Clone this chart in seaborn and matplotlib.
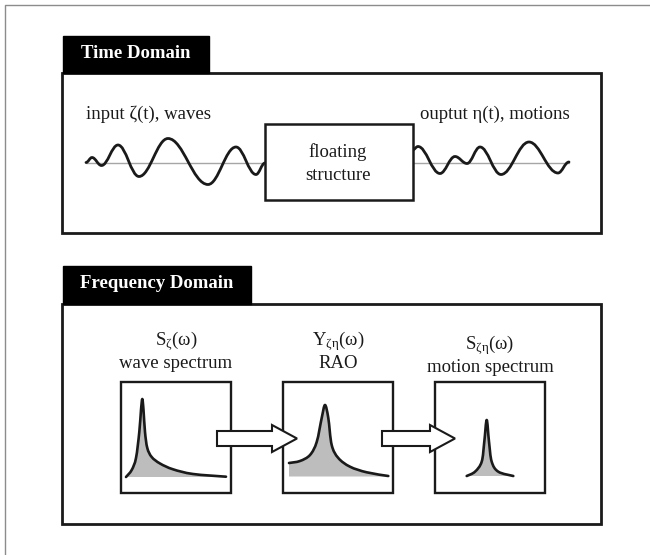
import numpy as np
import seaborn as sns
import matplotlib.pyplot as plt
from matplotlib.path import Path
from matplotlib.patches import PathPatch, Rectangle, Polygon

# the diagram is laid out in picture units (x right, y down)
wave_in_x = [86, 92, 101.5, 118, 139, 168, 208, 236, 256, 265]
wave_in_y = [162.5, 157.5, 165.5, 145, 176.5, 138.5, 184.5, 147, 174.5, 163]
wave_out_x = [412.5, 418, 440, 455, 467, 480, 501, 529, 558, 569]
wave_out_y = [150, 146.5, 173.5, 156.5, 163.5, 147, 174.5, 142, 173, 162]

spec_wave_x = [126, 131.7, 136, 139.3, 141, 142.3, 143.5, 145, 147.3, 151.7, 160, 173, 193, 226]
spec_wave_y = [477, 470, 458, 432, 410, 399, 410, 432, 448, 457, 463.5, 469.3, 474, 476.7]
rao_x = [289, 300, 310, 316.7, 321.7, 325, 328.3, 331.7, 338.3, 350, 366.7, 388.3]
rao_y = [463, 461, 455, 442, 418, 405, 418, 445, 458, 466.7, 472.3, 476]
motion_x = [466.7, 475, 481.7, 484.3, 486.7, 489, 491.7, 498.3, 513.3]
motion_y = [476, 471.7, 461.7, 441.7, 420, 441.7, 461.7, 471.7, 476]

panel_titles = ["Time Domain", "Frequency Domain"]
time_labels = ["input ζ(t), waves", "ouptut η(t), motions", "floating\nstructure"]
spec_symbols = ["S$_{ζ}$(ω)", "Y$_{ζη}$(ω)", "S$_{ζη}$(ω)"]
spec_names = ["wave spectrum", "RAO", "motion spectrum"]

INK = "#1a1a1a"
SHADE = "#bdbdbd"


def smooth_path(xs, ys, flat=False):
    pts = np.column_stack([xs, ys]).astype(float)
    verts = [tuple(pts[0])]
    codes = [Path.MOVETO]
    n = len(pts)
    for i in range(n - 1):
        p0, p1 = pts[i], pts[i + 1]
        if flat:
            d = (p1[0] - p0[0]) * 0.38
            c1 = (p0[0] + d, p0[1])
            c2 = (p1[0] - d, p1[1])
        else:
            pm = pts[max(i - 1, 0)]
            pn = pts[min(i + 2, n - 1)]
            c1 = tuple(p0 + (p1 - pm) / 6)
            c2 = tuple(p1 - (pn - p0) / 6)
        verts += [c1, c2, tuple(p1)]
        codes += [Path.CURVE4] * 3
    return verts, codes


def draw_curve(ax, xs, ys, flat=False, lw=1.7, z=3):
    verts, codes = smooth_path(xs, ys, flat)
    ax.add_patch(PathPatch(Path(verts, codes), fill=False, lw=lw, ec=INK,
                           capstyle="round", joinstyle="round", zorder=z))


def draw_spectrum(ax, xs, ys, base):
    verts, codes = smooth_path(xs, ys)
    fv = verts + [(xs[-1], base), (xs[0], base), (xs[0], base)]
    fc = codes + [Path.LINETO, Path.LINETO, Path.CLOSEPOLY]
    ax.add_patch(PathPatch(Path(fv, fc), fc=SHADE, ec="none", zorder=3))
    draw_curve(ax, xs, ys, lw=1.9, z=4)


def draw_arrow(ax, x0, xh, tip, yc):
    pts = [(x0, yc - 7.5), (xh, yc - 7.5), (xh, yc - 13.5), (tip, yc),
           (xh, yc + 13.5), (xh, yc + 7.5), (x0, yc + 7.5)]
    ax.add_patch(Polygon(pts, closed=True, fc="white", ec=INK, lw=1.5,
                         joinstyle="miter", zorder=6))


def main():
    sns.set_theme(style="white")
    plt.rcParams["font.family"] = ["Liberation Serif", "DejaVu Serif"]
    plt.rcParams["mathtext.fontset"] = "custom"
    plt.rcParams["mathtext.rm"] = "Liberation Serif"
    plt.rcParams["mathtext.it"] = "Liberation Serif"
    plt.rcParams["mathtext.bf"] = "Liberation Serif:bold"

    fig = plt.figure(figsize=(6.5, 5.55), dpi=100)
    ax = fig.add_axes([0, 0, 1, 1])
    ax.set_xlim(0, 650)
    ax.set_ylim(555, 0)
    ax.axis("off")

    # scan frame
    ax.plot([5, 5, 650], [555, 5, 5], color="#8c8c8c", lw=1.0, zorder=1)

    # time domain panel
    ax.add_patch(Rectangle((61.5, 72.5), 539.5, 160.5, fill=False, ec=INK, lw=2.0, zorder=2))
    ax.add_patch(Rectangle((63, 35.5), 146, 37, fc="black", ec="black", lw=1, zorder=2))
    ax.text(136, 53, panel_titles[0], color="white", fontsize=13.5, fontweight="bold",
            ha="center", va="center", zorder=3)

    sns.lineplot(x=[86, 569], y=[162.5, 162.5], ax=ax, color="#a6a6a6", lw=1.0, zorder=2)
    draw_curve(ax, wave_in_x, wave_in_y, flat=True, lw=2.0)
    draw_curve(ax, wave_out_x, wave_out_y, flat=True, lw=2.0)

    ax.add_patch(Rectangle((264.5, 124), 148, 76, fc="white", ec=INK, lw=1.8, zorder=5))
    ax.text(338, 163.5, time_labels[2], color=INK, fontsize=13.5, ha="center", va="center",
            linespacing=1.45, zorder=6)
    ax.text(86, 114, time_labels[0], color=INK, fontsize=13.5, ha="left", va="center")
    ax.text(570, 114, time_labels[1], color=INK, fontsize=13.5, ha="right", va="center")

    # frequency domain panel
    ax.add_patch(Rectangle((61.5, 304), 539.5, 219.5, fill=False, ec=INK, lw=2.0, zorder=2))
    ax.add_patch(Rectangle((63, 265.5), 188, 38.5, fc="black", ec="black", lw=1, zorder=2))
    ax.text(157, 284, panel_titles[1], color="white", fontsize=13.5, fontweight="bold",
            ha="center", va="center", zorder=3)

    box_left = [121, 283, 435]
    label_y = [(341, 364), (341, 364), (345, 368)]
    for i, bx in enumerate(box_left):
        ax.add_patch(Rectangle((bx, 382), 110, 111, fc="white", ec=INK, lw=1.7, zorder=2))
        cx = bx + 55
        ax.text(cx, label_y[i][0], spec_symbols[i], color=INK, fontsize=13.5,
                ha="center", va="center")
        ax.text(cx, label_y[i][1], spec_names[i], color=INK, fontsize=13.5,
                ha="center", va="center")

    draw_spectrum(ax, spec_wave_x, spec_wave_y, 477)
    draw_spectrum(ax, rao_x, rao_y, 476.5)
    draw_spectrum(ax, motion_x, motion_y, 476)

    draw_arrow(ax, 217, 272, 297, 438.5)
    draw_arrow(ax, 382, 430, 455, 438.5)

    fig.savefig("out.png", dpi=100, facecolor="white")


if __name__ == "__main__":
    main()
